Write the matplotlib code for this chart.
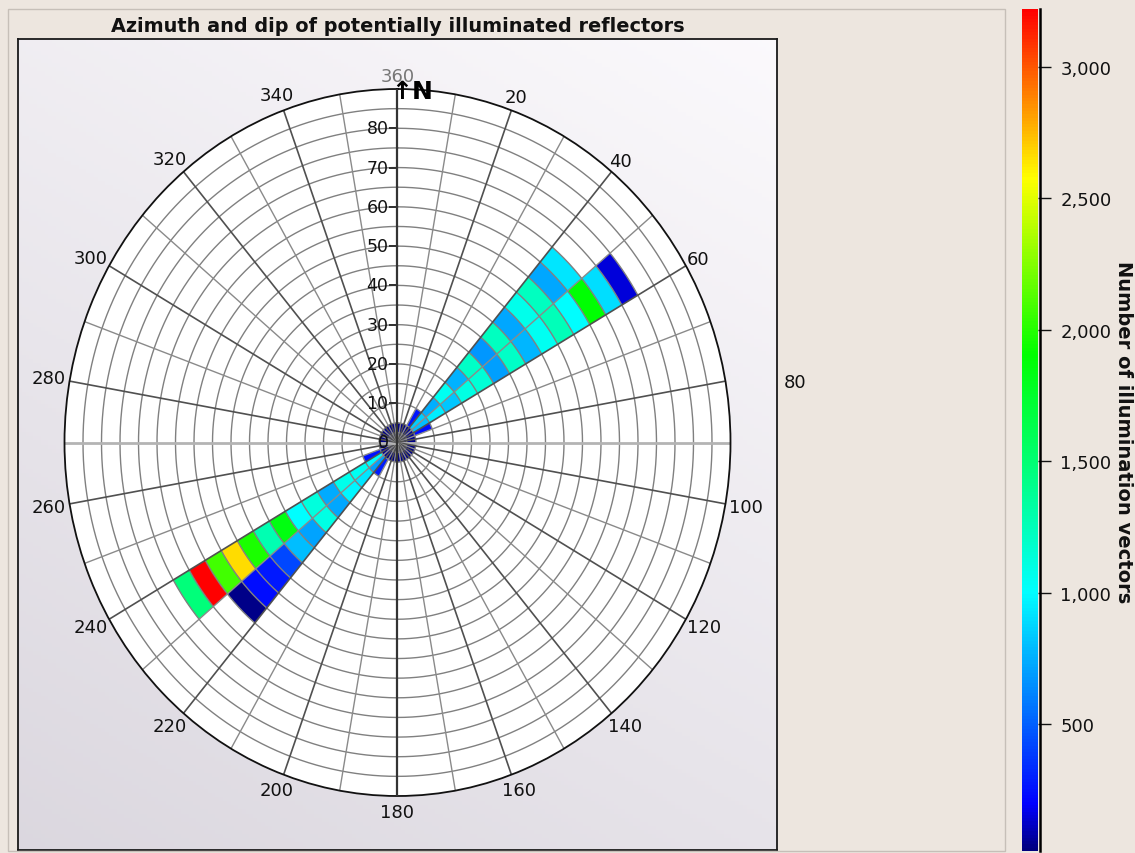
import numpy as np
import matplotlib
matplotlib.use("Agg")
import matplotlib.pyplot as plt
from matplotlib.colors import LinearSegmentedColormap, Normalize
from matplotlib.ticker import FuncFormatter
from matplotlib.path import Path
from matplotlib.patches import Rectangle
import matplotlib.cm as cm

W, H, DPI = 1135, 854, 100

# ---------------------------------------------------------------- data
AZ_STEP = 10     # azimuth bin width (deg)
DIP_STEP = 5     # dip bin width (deg)

# dip 0-5 ring, one value per azimuth sector 0,10,...,350
center_ring = [30, 35, 25, 40, 45, 55, 50, 35, 30, 25, 20, 25, 30, 35, 25, 20, 30, 35,
               30, 25, 20, 25, 45, 50, 55, 45, 40, 35, 30, 35, 40, 45, 35, 30, 25, 30]

# main lobes: counts per dip bin starting at dip 5-10
az_040_050 = [850, 750, 1050, 760, 1200, 680, 1230, 720, 1080, 1230, 720, 920]
az_050_060 = [800, 950, 820, 1100, 1150, 700, 1200, 780, 1050, 1250, 1000, 1900, 900, 150]
az_220_230 = [700, 920, 980, 720, 1100, 710, 800, 420, 270, 230, 40]
az_230_240 = [1000, 1050, 1080, 740, 1120, 1000, 1850, 1280, 1980, 2660, 2070, 3221, 1480]
lobe_sectors = {40: az_040_050, 50: az_050_060, 220: az_220_230, 230: az_230_240}

# narrow side lobes at dip 5-10
spike_azimuths = [30, 60, 210, 240]
spike_counts = [260, 240, 280, 250]

count_min, count_max = 17, 3221
cbar_ticks = [500, 1000, 1500, 2000, 2500, 3000]
azimuth_labels = list(range(20, 361, 20))
dip_labels = list(range(10, 81, 10))
ring_dips = [2.5] + list(range(5, 90, 5))

TITLE = "Azimuth and dip of potentially illuminated reflectors"
CBAR_LABEL = "Number of illumination vectors"

# ---------------------------------------------------------------- style
cmap = LinearSegmentedColormap.from_list(
    "illum", [(0.0, "#00007f"), (0.055, "#0000ff"), (0.307, "#00ffff"),
              (0.59, "#00ff00"), (0.80, "#ffff00"), (1.0, "#ff0000")])
norm = Normalize(count_min, count_max)

plt.rcParams["font.family"] = ["DejaVu Sans"]


def fx(px):
    return px / W


def fy(py):
    return 1 - py / H


fig = plt.figure(figsize=(W / DPI, H / DPI), dpi=DPI)
fig.patch.set_facecolor("#ede6df")

# outer frame
fig.add_artist(Rectangle((fx(8), fy(852)), fx(1005) - fx(8), fy(10) - fy(852),
                         transform=fig.transFigure, fill=False,
                         edgecolor="#c6bfb8", lw=1.0))

# plot panel with soft gradient
panel = fig.add_axes([fx(18), fy(851), fx(777) - fx(18), fy(40) - fy(851)])
gx, gy = np.meshgrid(np.linspace(0, 1, 200), np.linspace(0, 1, 200))
t = 0.35 * gx + 0.65 * gy
light = np.array([0.985, 0.978, 0.99])
dark = np.array([0.86, 0.845, 0.875])
grad = dark[None, None, :] * (1 - t[..., None]) + light[None, None, :] * t[..., None]
panel.imshow(grad, extent=[0, 1, 0, 1], aspect="auto", origin="lower")
panel.set_xticks([])
panel.set_yticks([])
for s in panel.spines.values():
    s.set_color("#1a1a1a")
    s.set_linewidth(1.3)

fig.text(fx(398), fy(27), TITLE, ha="center", va="center",
         fontsize=13.9, fontweight="bold", color="#111")

# polar (elliptical) axes
ax = fig.add_axes([fx(397.5 - 333), fy(443.5 + 353.5), 666 / W, 707 / H],
                  projection="polar")
ax.set_aspect("auto")
ax.set_theta_zero_location("N")
ax.set_theta_direction(-1)
ax.set_ylim(0, 90)
ax.set_xticks([])
ax.set_yticks([])
ax.grid(False)
ax.set_facecolor("white")
ax.spines["polar"].set_color("#111")
ax.spines["polar"].set_linewidth(1.3)

# cells
th_list, bot_list, val_list = [], [], []
for i, v in enumerate(center_ring):
    th_list.append(i * AZ_STEP)
    bot_list.append(0)
    val_list.append(v)
for az0, vals in lobe_sectors.items():
    for k, v in enumerate(vals):
        th_list.append(az0)
        bot_list.append(DIP_STEP * (k + 1))
        val_list.append(v)
for az0, v in zip(spike_azimuths, spike_counts):
    th_list.append(az0)
    bot_list.append(DIP_STEP)
    val_list.append(v)

ax.bar(np.deg2rad(th_list), DIP_STEP, width=np.deg2rad(AZ_STEP), bottom=bot_list,
       align="edge", color=cmap(norm(np.array(val_list))), edgecolor="none",
       linewidth=0, zorder=1)

# grid
th_fine = np.linspace(0, 2 * np.pi, 1441)
for d in ring_dips:
    ax.plot(th_fine, np.full_like(th_fine, d), color="#808080", lw=1.0, zorder=2)
for a in range(0, 360, 10):
    if a in (0, 180):
        continue
    if a in (90, 270):
        ax.plot([np.deg2rad(a)] * 2, [0, 90], color="#b4b4b4", lw=2.0, zorder=2)
    elif a % 20 == 0:
        ax.plot([np.deg2rad(a)] * 2, [0, 90], color="#505050", lw=1.2, zorder=2)
    else:
        ax.plot([np.deg2rad(a)] * 2, [0, 90], color="#8a8a8a", lw=1.0, zorder=2)
ax.plot([0, 0], [0, 90], color="#333", lw=1.6, zorder=3)
ax.plot([np.pi, np.pi], [0, 90], color="#333", lw=1.6, zorder=3)

# dip ticks and labels along the north axis
left_tick = Path([(-1, 0), (0, 0)])
ax.plot([0] * len(dip_labels), dip_labels, linestyle="none", marker=left_tick,
        markersize=12, markeredgecolor="#333", markeredgewidth=1.2, zorder=3)
for d in [0] + dip_labels:
    ax.annotate(str(d), xy=(0, d), xytext=(-9, 0), textcoords="offset pixels",
                ha="right", va="center", fontsize=12.5, color="#111", zorder=4)

# azimuth labels
for a in azimuth_labels:
    th = np.deg2rad(a)
    s = str(a)
    col = "#777" if a == 360 else "#111"
    if a == 80:
        off = (70, -1)
    else:
        pad = 13 if a == 360 else (16 if len(s) == 3 else 14)
        extra = 5 if len(s) == 3 else 0
        off = (np.sin(th) * (pad + extra), np.cos(th) * pad)
    ax.annotate(s, xy=(th, 90), xytext=off, textcoords="offset pixels",
                ha="center", va="center", fontsize=13, color=col,
                annotation_clip=False)

ax.annotate("\u2191N", xy=(0, 90), xytext=(-6, -2), textcoords="offset pixels",
            ha="left", va="center", fontsize=18, fontweight="bold", color="#000",
            annotation_clip=False)

# colour bar
cax = fig.add_axes([fx(1022), fy(852), 16 / W, 842 / H])
sm = cm.ScalarMappable(norm=norm, cmap=cmap)
cb = fig.colorbar(sm, cax=cax, ticks=cbar_ticks)
cb.outline.set_visible(False)
cax.plot([1.12, 1.12], [0, 1], transform=cax.transAxes, color="#000", lw=1.8,
         clip_on=False)
cax.yaxis.set_major_formatter(FuncFormatter(lambda v, p: f"{int(v):,}"))
cax.tick_params(axis="y", direction="out", length=9, width=1.0, pad=7,
                labelsize=13, colors="#111")
fig.text(fx(1123), fy(432), CBAR_LABEL, rotation=270, ha="center", va="center",
         fontsize=14, fontweight="bold", color="#111")

fig.savefig("out.png", dpi=DPI, facecolor=fig.get_facecolor())
